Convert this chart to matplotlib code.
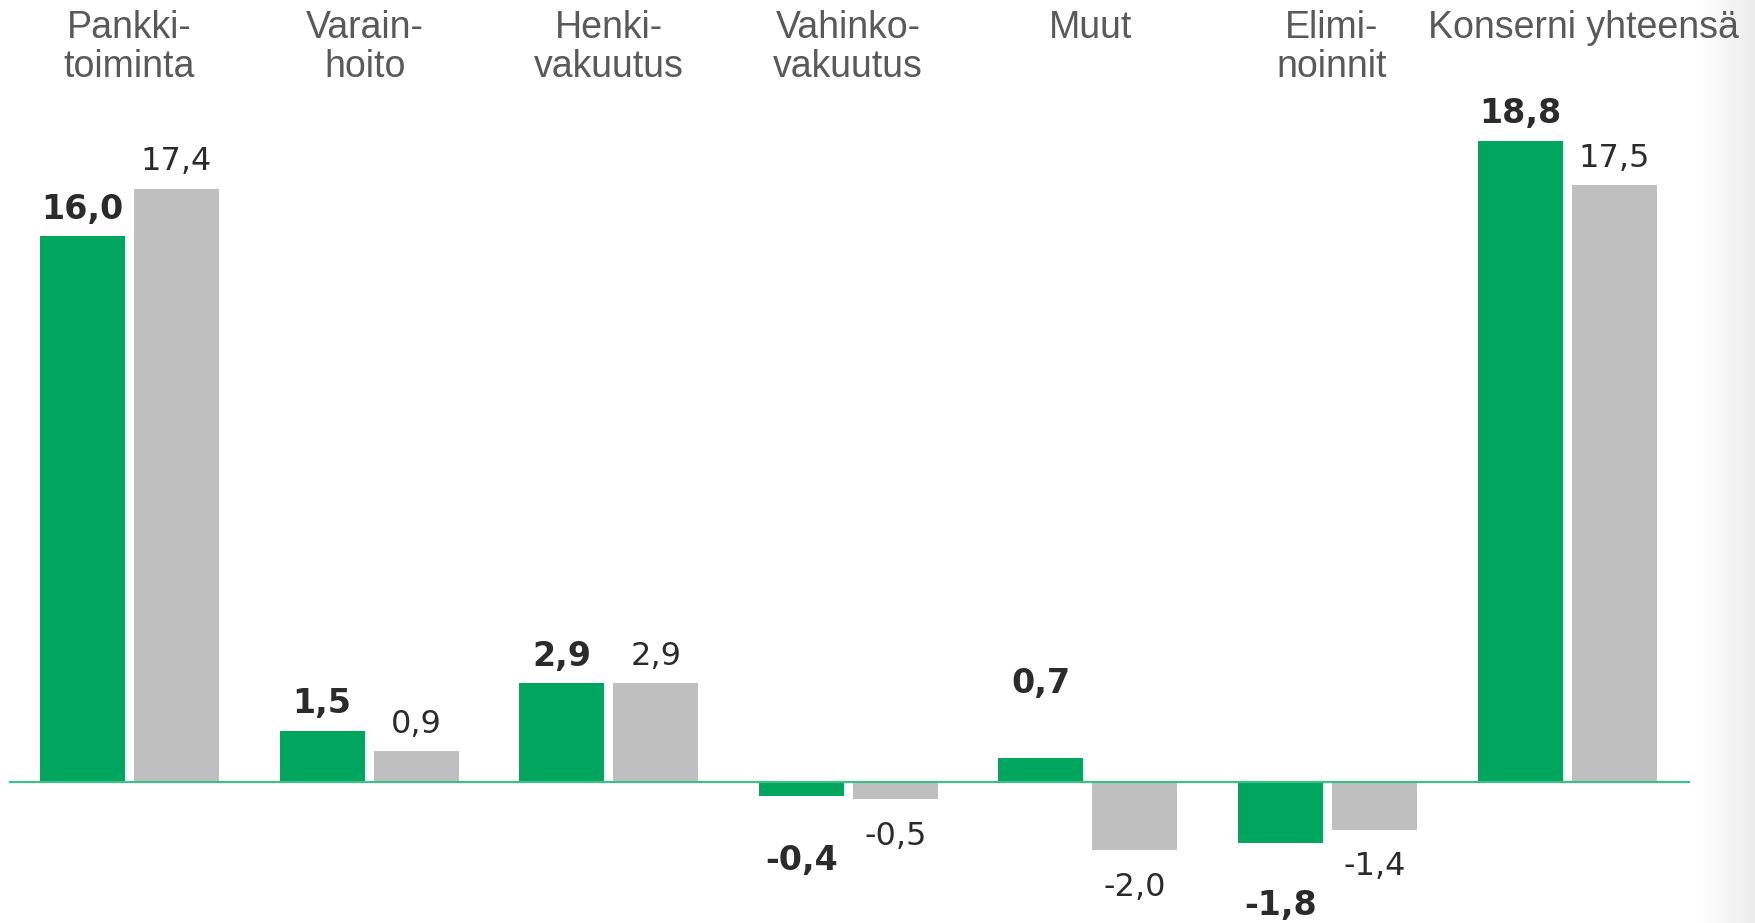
import numpy as np
import matplotlib.pyplot as plt

# Data
categories = ['Pankki-\ntoiminta', 'Varain-\nhoito', 'Henki-\nvakuutus', 'Vahinko-\nvakuutus',
              'Muut', 'Elimi-\nnoinnit', 'Konserni yhteensä']
current = [16.0, 1.5, 2.9, -0.4, 0.7, -1.8, 18.8]
previous = [17.4, 0.9, 2.9, -0.5, -2.0, -1.4, 17.5]

green = '#00a65d'
grey = '#bfbfbf'
line_green = '#3cc08a'

W, H = 1756, 923
fig = plt.figure(figsize=(W / 100, H / 100), dpi=100)

# faint grey shading at the right edge
bg = fig.add_axes([0, 0, 1, 1], zorder=0)
grad = np.linspace(0, 1, 200).reshape(1, -1)
bg.imshow(grad, extent=[1700, W, 0, H], aspect='auto',
          cmap=plt.matplotlib.colors.LinearSegmentedColormap.from_list('g', ['#ffffff', '#ececec']))
bg.set_xlim(0, W)
bg.set_ylim(0, H)
bg.axis('off')

ax = fig.add_axes([0, 0, 1, 1], zorder=1)
ax.patch.set_alpha(0)

px_per_unit = 34.1
base_y = 782
ax.set_ylim(-(H - base_y) / px_per_unit, base_y / px_per_unit)
spacing = 239.6
x0 = 129.5
ax.set_xlim(-x0 / spacing, (W - x0) / spacing)

x = np.arange(len(categories))
bw = 85 / spacing
off = 47 / spacing

ax.bar(x - off, current, bw, color=green, zorder=2)
ax.bar(x + off, previous, bw, color=grey, zorder=2)
ax.plot([-120 / spacing, (1689 - x0) / spacing], [0, 0], color=line_green, lw=1.6, zorder=3)

# label offsets in pixels (a few labels sit further from the bar)
cur_off = {4: 75, 3: 65, 5: 62}


def fmt(v):
    return f'{v:.1f}'.replace('.', ',')


for i in range(len(categories)):
    v = current[i]
    d = cur_off.get(i, 27 if v >= 0 else 33)
    ax.annotate(fmt(v), (x[i] - off, v), xytext=(0, d if v >= 0 else -d),
                textcoords='offset pixels', ha='center', va='center',
                fontsize=24, fontweight='bold', color='#2b2b2b', family='DejaVu Sans')
    v = previous[i]
    d = 27 if v >= 0 else 37
    ax.annotate(fmt(v), (x[i] + off, v), xytext=(0, d if v >= 0 else -d),
                textcoords='offset pixels', ha='center', va='center',
                fontsize=23, color='#2b2b2b', family='DejaVu Sans')

# category titles along the top; the last one sits a little to the right
title_shift = {1: -4, 4: 3, 5: 4, 6: 16}
for i, c in enumerate(categories):
    ax.annotate(c, (x[i], 1), xycoords=ax.get_xaxis_transform(),
                xytext=(title_shift.get(i, 0), -10), textcoords='offset pixels',
                ha='center', va='top', fontsize=27, color='#595959',
                family='Liberation Sans', linespacing=1.1)

ax.axis('off')
fig.savefig('out.png', dpi=100)
